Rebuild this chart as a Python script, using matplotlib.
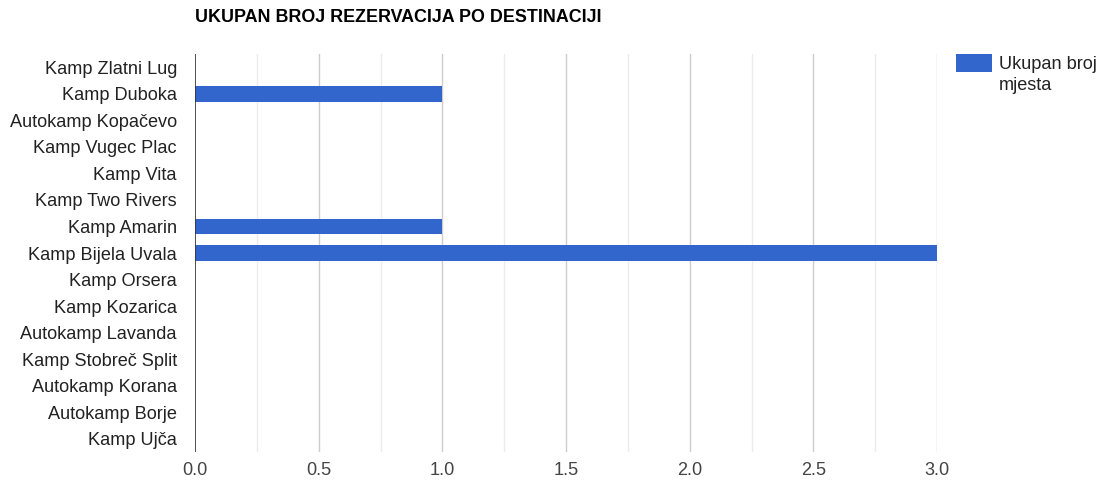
import matplotlib
matplotlib.use("Agg")
import matplotlib.pyplot as plt
from matplotlib.patches import Rectangle

categories = ["Kamp Zlatni Lug", "Kamp Duboka", "Autokamp Kopačevo", "Kamp Vugec Plac",
              "Kamp Vita", "Kamp Two Rivers", "Kamp Amarin", "Kamp Bijela Uvala",
              "Kamp Orsera", "Kamp Kozarica", "Autokamp Lavanda", "Kamp Stobreč Split",
              "Autokamp Korana", "Autokamp Borje", "Kamp Ujča"]
values = [0, 1, 0, 0, 0, 0, 1, 3, 0, 0, 0, 0, 0, 0, 0]
xticks = [0.0, 0.5, 1.0, 1.5, 2.0, 2.5, 3.0]
minor_ticks = [0.25, 0.75, 1.25, 1.75, 2.25, 2.75]
title = "UKUPAN BROJ REZERVACIJA PO DESTINACIJI"
series_name = "Ukupan broj\nmjesta"

plt.rcParams['font.family'] = ['Liberation Sans', 'DejaVu Sans']

W, H = 1103, 486
fig = plt.figure(figsize=(W/100, H/100), dpi=100)
ax = fig.add_axes([195/W, 1-452/H, (937-195)/W, (452-54)/H])

ypos = list(range(len(categories)))
ax.barh(ypos, values, height=0.6, color="#3366cc", zorder=3)
ax.set_ylim(len(categories)-0.5, -0.5)
ax.set_xlim(0, 3.0)
ax.set_yticks(ypos)
ax.set_yticklabels(categories, fontsize=13.1, color="#222222")
ax.set_xticks(xticks)
ax.set_xticklabels([f"{t:.1f}" for t in xticks], fontsize=13.1, color="#444444")
for t in minor_ticks:
    ax.axvline(t, color="#ebebeb", lw=1, zorder=1)
for t in xticks[1:]:
    ax.axvline(t, color="#cccccc", lw=1, zorder=1)
ax.axvline(0, color="#333333", lw=1.2, zorder=4)
ax.tick_params(axis="both", length=0)
ax.tick_params(axis="x", pad=7)
ax.tick_params(axis="y", pad=13)
for s in ax.spines.values():
    s.set_visible(False)

fig.text(195/W, 1-18/H, title, fontsize=12.9, fontweight="bold", color="#000000",
         ha="left", va="center")

# legend drawn in figure pixel coordinates
fig.patches.append(Rectangle((956/W, 1-72/H), 36/W, 18/H, transform=fig.transFigure,
                             facecolor="#3366cc", edgecolor="none"))
fig.text(999/W, 1-64/H, series_name.split("\n")[0], fontsize=13.1, color="#222222",
         ha="left", va="center")
fig.text(999/W, 1-86/H, series_name.split("\n")[1], fontsize=13.1, color="#222222",
         ha="left", va="center")

fig.savefig("out.png", dpi=100, facecolor="white")
